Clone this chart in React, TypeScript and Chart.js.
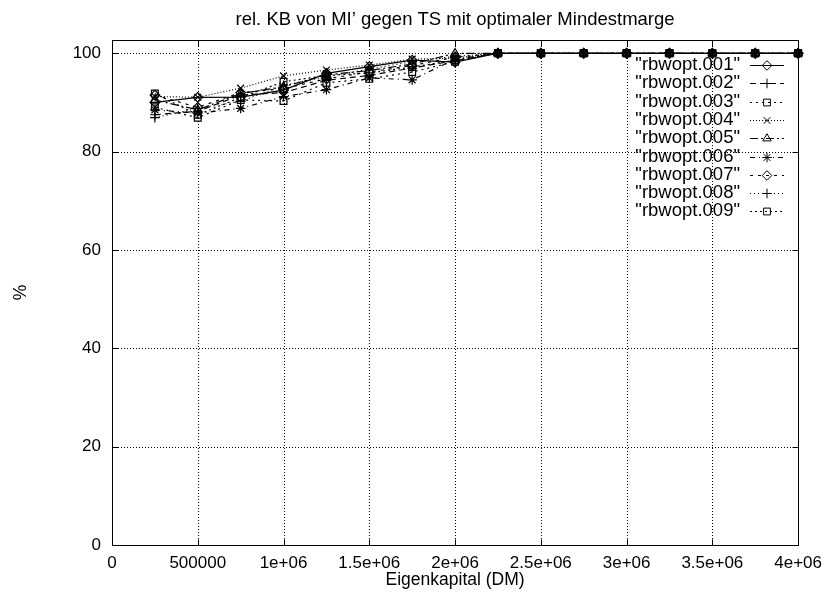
import React, { useEffect, useRef } from 'react';
import { Chart, registerables } from 'chart.js';
import { drawPoint } from 'chart.js/helpers';

Chart.register(...registerables);

// ---------- data ----------
const xValues = [250000, 500000, 750000, 1000000, 1250000, 1500000, 1750000, 2000000, 2250000, 2500000, 2750000, 3000000, 3250000, 3500000, 3750000, 4000000];

const seriesNames = ['"rbwopt.001"', '"rbwopt.002"', '"rbwopt.003"', '"rbwopt.004"', '"rbwopt.005"', '"rbwopt.006"', '"rbwopt.007"', '"rbwopt.008"', '"rbwopt.009"'];

const rbwopt001 = [90.0, 91.05, 91.1, 92.5, 95.9, 97.3, 98.6, 98.2, 100, 100, 100, 100, 100, 100, 100, 100];
const rbwopt002 = [87.5, 88.2, 91.5, 92.0, 94.5, 95.5, 97.0, 98.5, 100, 100, 100, 100, 100, 100, 100, 100];
const rbwopt003 = [89.0, 86.9, 90.5, 90.3, 94.0, 94.8, 96.2, 98.3, 100, 100, 100, 100, 100, 100, 100, 100];
const rbwopt004 = [91.2, 91.05, 92.9, 95.4, 96.6, 97.6, 98.8, 99.0, 100, 100, 100, 100, 100, 100, 100, 100];
const rbwopt005 = [90.5, 88.5, 91.8, 93.2, 95.6, 96.5, 97.8, 100, 100, 100, 100, 100, 100, 100, 100, 100];
const rbwopt006 = [88.5, 87.8, 88.8, 91.2, 92.6, 95.0, 94.6, 98.8, 100, 100, 100, 100, 100, 100, 100, 100];
const rbwopt007 = [91.5, 89.0, 92.0, 92.8, 94.8, 96.2, 97.5, 99.2, 100, 100, 100, 100, 100, 100, 100, 100];
const rbwopt008 = [86.9, 88.8, 90.2, 93.5, 95.2, 96.8, 98.3, 99.4, 100, 100, 100, 100, 100, 100, 100, 100];
const rbwopt009 = [91.8, 87.5, 91.0, 94.2, 95.5, 96.0, 97.2, 98.6, 100, 100, 100, 100, 100, 100, 100, 100];

const seriesValues = [rbwopt001, rbwopt002, rbwopt003, rbwopt004, rbwopt005, rbwopt006, rbwopt007, rbwopt008, rbwopt009];

const xTickValues = [0, 500000, 1000000, 1500000, 2000000, 2500000, 3000000, 3500000, 4000000];
const xTickLabels = ['0', '500000', '1e+06', '1.5e+06', '2e+06', '2.5e+06', '3e+06', '3.5e+06', '4e+06'];
const yTickValues = [0, 20, 40, 60, 80, 100];
const yTickLabels = ['0', '20', '40', '60', '80', '100'];

const titleText = 'rel. KB von MI\u2019 gegen TS mit optimaler Mindestmarge';
const xTitle = 'Eigenkapital (DM)';
const yTitle = '%';

// ---------- styles ----------
const pointStyles = ['rectRot', 'cross', 'rect', 'crossRot', 'triangle', 'star', 'rectRot', 'cross', 'rect'];
const dashes: number[][] = [[], [6, 4], [2, 4], [1, 2], [8, 3, 2, 3], [5, 4, 1, 4], [3, 5], [1, 3], [2, 3]];
const FONT = 'Liberation Sans, Arial, sans-serif';
const FS = 17;
const FS_BIG = 18.5;
const FS_AXIS = 17.5;

const gnuplotPlugin = {
  id: 'gnuplotDecor',
  beforeDatasetsDraw(chart: any) {
    const { ctx, chartArea: a, scales } = chart;
    const x = scales.x, y = scales.y;
    ctx.save();
    ctx.strokeStyle = '#000';
    ctx.lineWidth = 1;
    ctx.setLineDash([1, 2]);
    ctx.beginPath();
    xTickValues.forEach((v) => {
      const px = Math.round(x.getPixelForValue(v)) + 0.5;
      ctx.moveTo(px, a.top);
      ctx.lineTo(px, a.bottom);
    });
    yTickValues.forEach((v) => {
      const py = Math.round(y.getPixelForValue(v)) + 0.5;
      ctx.moveTo(a.left, py);
      ctx.lineTo(a.right, py);
    });
    ctx.stroke();
    ctx.restore();
  },
  afterDatasetsDraw(chart: any) {
    const { ctx, chartArea: a, scales } = chart;
    const x = scales.x, y = scales.y;
    ctx.save();
    ctx.strokeStyle = '#000';
    ctx.lineWidth = 1;
    ctx.setLineDash([]);
    const L = Math.round(a.left) + 0.5, R = Math.round(a.right) + 0.5;
    const T = Math.round(a.top) + 0.5, B = Math.round(a.bottom) + 0.5;
    ctx.strokeRect(L, T, R - L, B - T);
    const tl = 6;
    ctx.beginPath();
    xTickValues.forEach((v) => {
      const px = Math.round(x.getPixelForValue(v)) + 0.5;
      ctx.moveTo(px, B); ctx.lineTo(px, B - tl);
      ctx.moveTo(px, T); ctx.lineTo(px, T + tl);
    });
    yTickValues.forEach((v) => {
      const py = Math.round(y.getPixelForValue(v)) + 0.5;
      ctx.moveTo(L, py); ctx.lineTo(L + tl, py);
      ctx.moveTo(R, py); ctx.lineTo(R - tl, py);
    });
    ctx.stroke();

    ctx.fillStyle = '#000';
    ctx.font = `${FS_BIG}px ${FONT}`;
    ctx.textAlign = 'center';
    ctx.textBaseline = 'alphabetic';
    const cx = (a.left + a.right) / 2;
    ctx.fillText(titleText, cx, 25);
    ctx.font = `${FS_AXIS}px ${FONT}`;
    ctx.textBaseline = 'middle';
    ctx.fillText(xTitle, cx, 580);
    ctx.save();
    ctx.translate(21, (a.top + a.bottom) / 2);
    ctx.rotate(-Math.PI / 2);
    ctx.fillText(yTitle, 0, 0);
    ctx.restore();

    ctx.font = `${FS_BIG}px ${FONT}`;
    const textRight = 740;
    const sx0 = 750, sx1 = 784;
    chart.data.datasets.forEach((ds: any, i: number) => {
      const ry = 65 + i * 18.3;
      ctx.fillStyle = '#000';
      ctx.textAlign = 'right';
      ctx.textBaseline = 'middle';
      ctx.fillText(ds.label, textRight, ry);
      ctx.setLineDash(ds.borderDash || []);
      ctx.beginPath();
      ctx.moveTo(sx0, Math.round(ry) + 0.5);
      ctx.lineTo(sx1, Math.round(ry) + 0.5);
      ctx.stroke();
      ctx.setLineDash([]);
      ctx.fillStyle = 'rgba(0,0,0,0)';
      ctx.strokeStyle = '#000';
      ctx.lineWidth = 1;
      drawPoint(ctx, { pointStyle: ds.pointStyle, rotation: 0, radius: ds.pointRadius, borderWidth: 1 }, (sx0 + sx1) / 2, Math.round(ry) + 0.5);
    });
    ctx.restore();
  },
};

export default function App() {
  const ref = useRef<HTMLCanvasElement | null>(null);

  useEffect(() => {
    if (!ref.current) return;
    const datasets = seriesValues.map((vals, i) => ({
      label: seriesNames[i],
      data: xValues.map((xv, j) => ({ x: xv, y: vals[j] })),
      borderColor: '#000',
      borderWidth: 1.2,
      borderDash: dashes[i],
      pointStyle: pointStyles[i],
      pointRadius: 4.8,
      pointBorderWidth: 1.2,
      pointBorderColor: '#000',
      pointBackgroundColor: 'rgba(0,0,0,0)',
      fill: false,
      tension: 0,
      clip: false,
    }));

    const chart = new Chart(ref.current, {
      type: 'line',
      data: { datasets },
      options: {
        animation: false,
        responsive: false,
        devicePixelRatio: 1,
        layout: { padding: { top: 40, right: 28, bottom: 0, left: 0 } },
        plugins: { legend: { display: false }, title: { display: false }, tooltip: { enabled: false } },
        scales: {
          x: {
            type: 'linear',
            min: 0,
            max: 4000000,
            grid: { display: false, drawTicks: false },
            border: { display: false },
            afterFit: (s: any) => { s.height = 48; },
            afterBuildTicks: (s: any) => { s.ticks = xTickValues.map((v) => ({ value: v })); },
            ticks: {
              padding: 8,
              maxRotation: 0,
              autoSkip: false,
              color: '#000',
              font: { family: FONT, size: FS },
              callback: (_v: any, idx: number) => xTickLabels[idx],
            },
          },
          y: {
            type: 'linear',
            min: 0,
            max: 102.7,
            grid: { display: false, drawTicks: false },
            border: { display: false },
            afterFit: (s: any) => { s.width = 112; },
            afterBuildTicks: (s: any) => { s.ticks = yTickValues.map((v) => ({ value: v })); },
            ticks: {
              padding: 11,
              autoSkip: false,
              color: '#000',
              font: { family: FONT, size: FS },
              callback: (_v: any, idx: number) => yTickLabels[idx],
            },
          },
        },
      } as any,
      plugins: [gnuplotPlugin],
    });
    return () => chart.destroy();
  }, []);

  return (
    <div style={{ position: 'absolute', left: 0, top: 0, width: 830, height: 593, background: '#fff' }}>
      <canvas ref={ref} width={830} height={593} style={{ display: 'block', width: 830, height: 593 }} />
    </div>
  );
}
